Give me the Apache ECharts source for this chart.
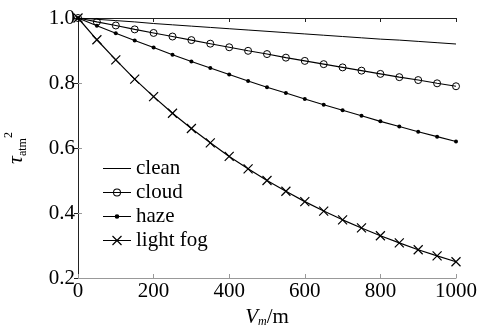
<!DOCTYPE html>
<html>
<head>
<meta charset="utf-8">
<script src="https://cdn.jsdelivr.net/npm/echarts@6/dist/echarts.min.js"></script>
<style>
  html, body { margin: 0; padding: 0; background: #fff; }
  #chart { width: 484px; height: 326px; }
</style>
</head>
<body>
<div id="chart"></div>
<script>
// distance, m
const distance = [0, 50, 100, 150, 200, 250, 300, 350, 400, 450, 500, 550, 600, 650, 700, 750, 800, 850, 900, 950, 1000]
// tau_atm^2
const clean = [1.0, 0.996, 0.992, 0.988, 0.983, 0.979, 0.975, 0.971, 0.967, 0.963, 0.959, 0.955, 0.951, 0.947, 0.943, 0.939, 0.935, 0.932, 0.928, 0.924, 0.920]
const cloud = [1.0, 0.988, 0.977, 0.965, 0.954, 0.943, 0.932, 0.921, 0.910, 0.899, 0.889, 0.878, 0.868, 0.858, 0.848, 0.838, 0.828, 0.818, 0.809, 0.799, 0.790]
const haze = [1.0, 0.976, 0.953, 0.931, 0.909, 0.887, 0.866, 0.846, 0.826, 0.806, 0.787, 0.769, 0.751, 0.733, 0.716, 0.699, 0.682, 0.666, 0.650, 0.635, 0.620]
const lightFog = [1.0, 0.933, 0.871, 0.812, 0.758, 0.707, 0.660, 0.616, 0.574, 0.536, 0.500, 0.467, 0.435, 0.406, 0.379, 0.354, 0.330, 0.308, 0.287, 0.268, 0.250]
const names = ['clean', 'cloud', 'haze', 'light fog']

const serif = 'Liberation Serif'
const pairs = ys => distance.map((x, i) => [x, ys[i]])

// legend icons: line + marker, drawn in a 28x10 box
const lineBar = 'M0,4.5L28,4.5L28,5.5L0,5.5Z'
const icons = {
  'clean': 'path://' + lineBar,
  'cloud': 'path://' + lineBar + 'M18,5A4,4 0 1,1 10,5A4,4 0 1,1 18,5Z' + 'M17,5A3,3 0 1,0 11,5A3,3 0 1,0 17,5Z',
  'haze': 'path://' + lineBar + 'M16.3,5A2.3,2.3 0 1,1 11.7,5A2.3,2.3 0 1,1 16.3,5Z',
  'light fog': 'path://' + lineBar +
    'M9.92,0.08L18.92,9.08L18.08,9.92L9.08,0.92Z' +
    'M18.92,0.92L9.92,9.92L9.08,9.08L18.08,0.08Z'
}

const chart = echarts.init(document.getElementById('chart'))

const frameAxis = {
  axisLine: { show: true, lineStyle: { color: '#222', width: 1 } },
  axisTick: { show: true, inside: true, length: 4, lineStyle: { color: '#222' } },
  axisLabel: { show: false },
  splitLine: { show: false }
}

const option = {
  animation: false,
  grid: { left: 78, right: 28, top: 18, bottom: 48, containLabel: false, outerBoundsMode: 'none' },
  legend: {
    data: names.map(n => ({ name: n, icon: icons[n], itemStyle: { color: '#000', borderWidth: 0 } })),
    orient: 'vertical',
    left: 98,
    top: 153,
    itemWidth: 28,
    itemHeight: 10,
    itemGap: 3,
    textStyle: { fontFamily: serif, fontSize: 21, color: '#000' }
  },
  xAxis: [
    {
      type: 'value',
      min: 0,
      max: 1000,
      interval: 200,
      name: '{v|V}{s|m}{n|/m}',
      nameLocation: 'middle',
      nameGap: 26,
      nameTextStyle: {
        rich: {
          v: { fontFamily: serif, fontSize: 21, fontStyle: 'italic', color: '#000' },
          s: { fontFamily: serif, fontSize: 12, fontStyle: 'italic', color: '#000', verticalAlign: 'bottom', padding: [9, 0, 0, 0] },
          n: { fontFamily: serif, fontSize: 21, color: '#000' }
        }
      },
      axisLine: { show: true, lineStyle: { color: '#999', width: 1 } },
      axisTick: { show: true, inside: true, length: 4, lineStyle: { color: '#999' } },
      axisLabel: { fontFamily: serif, fontSize: 21, color: '#000', margin: 3, formatter: v => String(v) },
      splitLine: { show: false }
    },
    Object.assign({ type: 'value', min: 0, max: 1000, interval: 200, position: 'top' }, frameAxis)
  ],
  yAxis: [
    {
      type: 'value',
      min: 0.2,
      max: 1.0,
      interval: 0.2,
      name: '{t|τ}{s|atm}{p|2}',
      nameLocation: 'middle',
      nameRotate: 90,
      nameGap: 49,
      nameTextStyle: {
        rich: {
          t: { fontFamily: serif, fontSize: 22, fontStyle: 'italic', color: '#000', lineHeight: 26 },
          s: { fontFamily: serif, fontSize: 12, color: '#000', verticalAlign: 'bottom' },
          p: { fontFamily: serif, fontSize: 12, color: '#000', verticalAlign: 'top' }
        }
      },
      axisLine: { show: true, lineStyle: { color: '#999', width: 1 } },
      axisTick: { show: true, inside: true, length: 4, lineStyle: { color: '#999' } },
      axisLabel: { fontFamily: serif, fontSize: 21, color: '#000', margin: 3, formatter: v => v.toFixed(1) },
      splitLine: { show: false }
    },
    Object.assign({ type: 'value', min: 0.2, max: 1.0, interval: 0.2, position: 'right' }, frameAxis)
  ],
  series: [
    {
      name: 'clean',
      type: 'line',
      data: pairs(clean),
      showSymbol: false,
      symbol: 'none',
      lineStyle: { color: '#000', width: 1 },
      itemStyle: { color: '#000' }
    },
    {
      name: 'cloud',
      type: 'line',
      data: pairs(cloud),
      symbol: 'circle',
      symbolSize: 7,
      lineStyle: { color: '#000', width: 1.1 },
      itemStyle: { color: 'rgba(0,0,0,0)', borderColor: '#000', borderWidth: 1 }
    },
    {
      name: 'haze',
      type: 'line',
      data: pairs(haze),
      symbol: 'circle',
      symbolSize: 4,
      lineStyle: { color: '#000', width: 1.1 },
      itemStyle: { color: '#000' }
    },
    {
      name: 'light fog',
      type: 'line',
      data: pairs(lightFog),
      symbol: 'path://M0,0L10,10M10,0L0,10',
      symbolSize: 9,
      lineStyle: { color: '#000', width: 1.2 },
      itemStyle: { color: 'rgba(0,0,0,0)', borderColor: '#000', borderWidth: 1.2 }
    }
  ]
}

chart.setOption(option)
</script>
</body>
</html>
